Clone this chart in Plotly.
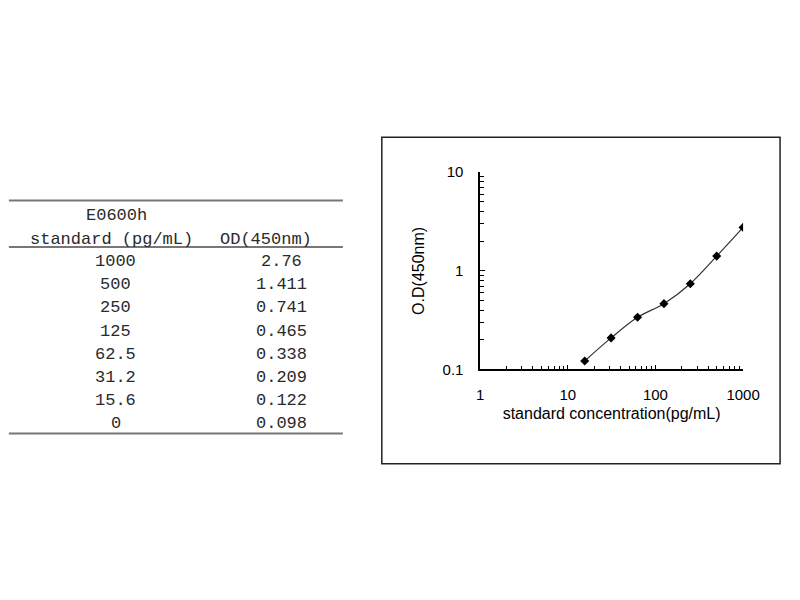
import plotly.graph_objects as go

# standard curve data
std_labels = ["1000", "500", "250", "125", "62.5", "31.2", "15.6", "0"]
od_labels = ["2.76", "1.411", "0.741", "0.465", "0.338", "0.209", "0.122", "0.098"]
conc = [1000, 500, 250, 125, 62.5, 31.2, 15.6]
od = [2.76, 1.411, 0.741, 0.465, 0.338, 0.209, 0.122]

W = 800
H = 600

def px(x):
    return x / W

def py(y):
    return 1 - y / H

fig = go.Figure()

fig.add_trace(go.Scatter(
    x=conc, y=od,
    mode="lines+markers",
    line=dict(color="#333333", width=1.2, shape="spline"),
    marker=dict(symbol="diamond", size=7, color="black"),
    showlegend=False,
))

tick_font = dict(family="Liberation Sans, Arial", size=15, color="black")
title_font = dict(family="Liberation Sans, Arial", size=16, color="black")

fig.update_xaxes(
    type="log", range=[0, 3], dtick=1,
    domain=[px(489), px(759)],
    showline=True, linecolor="black", linewidth=1.5,
    showgrid=False, zeroline=False,
    ticks="inside", ticklen=5, tickcolor="black",
    minor=dict(ticks="inside", ticklen=4, tickcolor="black", dtick="D1", showgrid=False),
    tickfont=tick_font, ticklabelstandoff=11,
    title=dict(text="standard concentration(pg/mL)", font=title_font, standoff=6),
)
fig.update_yaxes(
    type="log", range=[-1, 1], dtick=1,
    domain=[py(371), py(168)],
    showline=True, linecolor="black", linewidth=1.5,
    showgrid=False, zeroline=False,
    ticks="inside", ticklen=5, tickcolor="black",
    minor=dict(ticks="inside", ticklen=4, tickcolor="black", dtick="D1", showgrid=False),
    tickfont=tick_font, ticklabelstandoff=12,
    title=dict(text="O.D(450nm)", font=title_font, standoff=14),
)

# frame around the chart
fig.add_shape(type="rect", xref="paper", yref="paper",
              x0=px(388), x1=px(797), y0=py(468), y1=py(132),
              line=dict(color="#222222", width=1.5))

# table rules
for y in [197, 245, 437]:
    fig.add_shape(type="line", xref="paper", yref="paper",
                  x0=px(5), x1=px(348), y0=py(y), y1=py(y),
                  line=dict(color="#777777", width=2))

tab_font = dict(family="Liberation Mono, DejaVu Sans Mono", size=17, color="#2a2a2a")

def cell(text, x, y):
    fig.add_annotation(x=px(x), y=py(y), xref="paper", yref="paper",
                       text=text, showarrow=False, font=tab_font,
                       xanchor="center", yanchor="middle")

cell("E0600h", 116, 213)
cell("standard (pg/mL)", 110, 237)
cell("OD(450nm)", 269, 237)
for i in range(len(std_labels)):
    y = 260 + 23.8 * i
    cell(std_labels[i], 115, y)
    cell(od_labels[i], 285, y)

fig.update_layout(
    width=W, height=H,
    margin=dict(l=0, r=0, t=0, b=0),
    paper_bgcolor="white", plot_bgcolor="white",
)

fig.write_html(
    "out.html",
    config={"displayModeBar": False},
    post_script="document.body.style.margin='0';document.body.style.overflow='hidden';",
)
